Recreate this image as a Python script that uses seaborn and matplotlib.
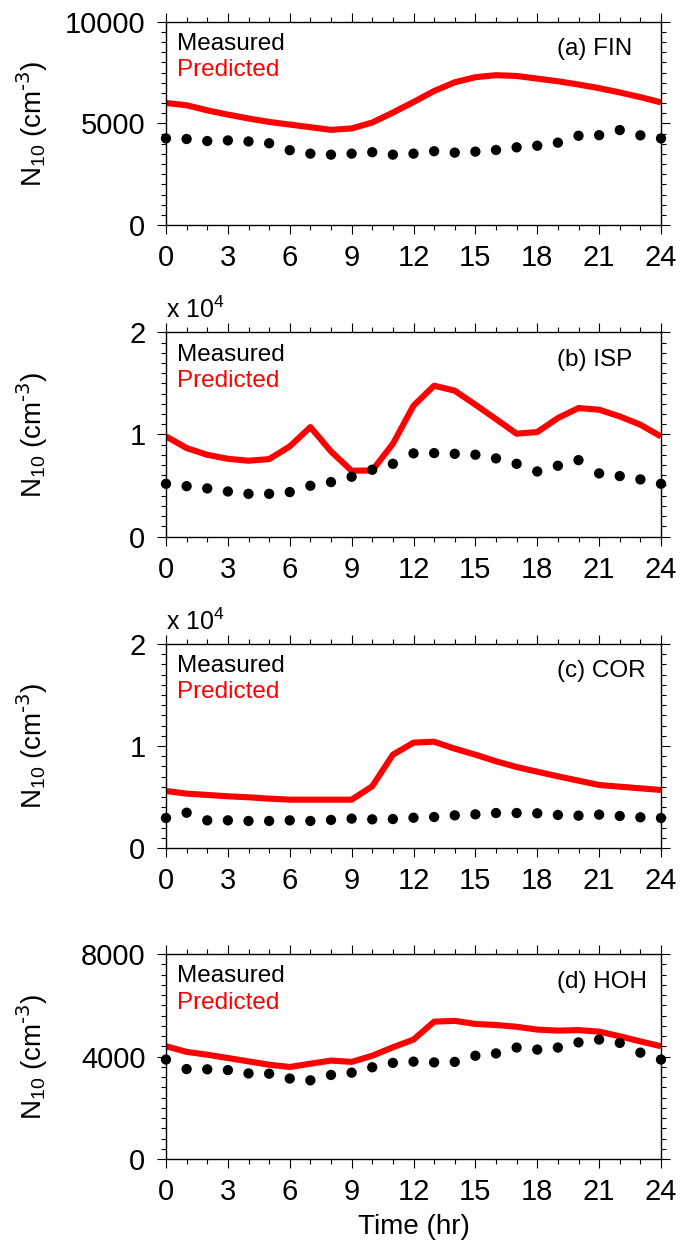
import numpy as np
import pandas as pd
import matplotlib
matplotlib.use("Agg")
import matplotlib.pyplot as plt
from matplotlib.ticker import MultipleLocator, FuncFormatter
import seaborn as sns

# Diurnal N10 number concentrations (cm^-3), hourly 0..24
hours = list(range(25))

fin_measured = [4260, 4230, 4130, 4160, 4110, 4020, 3680, 3510, 3460, 3510, 3580, 3460, 3510,
                3630, 3560, 3610, 3690, 3820, 3900, 4050, 4390, 4420, 4670, 4410, 4260]
fin_predicted = [6000, 5890, 5640, 5430, 5240, 5070, 4940, 4810, 4680, 4750, 5040, 5530, 6050,
                 6590, 7020, 7270, 7370, 7330, 7200, 7070, 6910, 6730, 6520, 6290, 6030]

isp_measured = [5160, 4930, 4710, 4410, 4180, 4180, 4350, 4970, 5330, 5850, 6540, 7120, 8140,
                8170, 8100, 8010, 7650, 7120, 6370, 6930, 7480, 6180, 5920, 5590, 5160]
isp_predicted = [9800, 8660, 8000, 7610, 7420, 7580, 8820, 10720, 8330, 6440, 6470, 9080, 12810,
                 14770, 14280, 12910, 11500, 10070, 10230, 11600, 12580, 12420, 11760, 10950, 9800]

cor_measured = [2940, 3460, 2710, 2710, 2650, 2650, 2710, 2650, 2750, 2880, 2810, 2840, 2970,
                3040, 3200, 3300, 3430, 3430, 3400, 3240, 3170, 3270, 3140, 3010, 2940]
cor_predicted = [5590, 5330, 5200, 5070, 4970, 4840, 4740, 4740, 4740, 4740, 6050, 9150, 10330,
                 10420, 9740, 9150, 8500, 7940, 7480, 7030, 6600, 6180, 6010, 5850, 5690]

hoh_measured = [3880, 3510, 3500, 3470, 3340, 3330, 3140, 3070, 3280, 3370, 3580, 3750, 3800,
                3770, 3790, 4030, 4120, 4350, 4270, 4350, 4550, 4660, 4530, 4150, 3880]
hoh_predicted = [4400, 4180, 4070, 3940, 3810, 3680, 3590, 3720, 3840, 3790, 4030, 4360, 4660,
                 5360, 5390, 5270, 5230, 5160, 5050, 5010, 5030, 4970, 4790, 4590, 4400]

site_labels = ["(a) FIN", "(b) ISP", "(c) COR", "(d) HOH"]
measured = [fin_measured, isp_measured, cor_measured, hoh_measured]
predicted = [fin_predicted, isp_predicted, cor_predicted, hoh_predicted]

# y-axis settings per panel: (max, major step, minor step, scale shown as "x 10^4")
y_max = [10000, 20000, 20000, 8000]
y_major = [5000, 10000, 10000, 4000]
y_minor = [500, 1000, 1000, 400]
y_scaled = [False, True, True, False]

x_ticks = [0, 3, 6, 9, 12, 15, 18, 21, 24]

sns.set_style("ticks")
plt.rcParams["font.family"] = ["Liberation Sans", "DejaVu Sans"]
plt.rcParams["mathtext.default"] = "regular"
plt.rcParams["text.color"] = "black"
plt.rcParams["axes.labelcolor"] = "black"
plt.rcParams["xtick.color"] = "black"
plt.rcParams["ytick.color"] = "black"
plt.rcParams["axes.edgecolor"] = "black"

fig = plt.figure(figsize=(6.8, 12.49), dpi=100)

# axes boxes in figure pixels (top, bottom)
W, H = 680.0, 1249.0
left_px, right_px = 166.0, 661.0
boxes = [(21.7, 225.0), (332.3, 536.5), (644.0, 848.0), (954.0, 1159.0)]

for i in range(4):
    top_px, bot_px = boxes[i]
    ax = fig.add_axes([left_px / W, 1 - bot_px / H, (right_px - left_px) / W, (bot_px - top_px) / H])

    df = pd.DataFrame({"hour": hours, "measured": measured[i], "predicted": predicted[i]})
    sns.lineplot(data=df, x="hour", y="predicted", ax=ax, color="#ff0000", linewidth=4.4,
                 solid_capstyle="butt", zorder=2)
    sns.scatterplot(data=df, x="hour", y="measured", ax=ax, color="black", s=55,
                    edgecolor="none", zorder=3, clip_on=False)

    ax.set_xlim(0, 24)
    ax.set_ylim(0, y_max[i])
    ax.set_xticks(x_ticks)
    ax.xaxis.set_minor_locator(MultipleLocator(1))
    ax.yaxis.set_major_locator(MultipleLocator(y_major[i]))
    ax.yaxis.set_minor_locator(MultipleLocator(y_minor[i]))
    if y_scaled[i]:
        ax.yaxis.set_major_formatter(FuncFormatter(lambda v, p: f"{v / 1e4:g}"))
        ax.text(0.0, 1.068, "x 10$^{4}$", transform=ax.transAxes, fontsize=18,
                ha="left", va="baseline", color="black")
    else:
        ax.yaxis.set_major_formatter(FuncFormatter(lambda v, p: f"{v:g}"))

    for s in ax.spines.values():
        s.set_visible(True)
        s.set_linewidth(1.0)
        s.set_color("black")
    ax.tick_params(which="both", direction="out", top=True, right=True, color="black",
                   labelcolor="black", width=0.8)
    ax.tick_params(which="major", length=6.8, labelsize=21, pad=7)
    ax.tick_params(which="minor", length=3.4)
    ax.tick_params(axis="y", which="major", pad=8)

    ax.set_ylabel(r"N$_{10}$ (cm$^{\text{-3}}$)", fontsize=20, color="black")
    ax.yaxis.set_label_coords(-0.235, 0.5)
    if i == 3:
        ax.set_xlabel("Time (hr)", fontsize=20, color="black")
        ax.xaxis.set_label_coords(0.5, -0.27)
    else:
        ax.set_xlabel("")

    ax.text(0.022, 0.861, "Measured", transform=ax.transAxes, fontsize=17.5,
            color="black", ha="left", va="baseline")
    ax.text(0.022, 0.733, "Predicted", transform=ax.transAxes, fontsize=17.5,
            color="#ff0000", ha="left", va="baseline")
    ax.text(0.79, 0.836, site_labels[i], transform=ax.transAxes, fontsize=17.5,
            color="black", ha="left", va="baseline")

fig.savefig("out.png", dpi=100)
